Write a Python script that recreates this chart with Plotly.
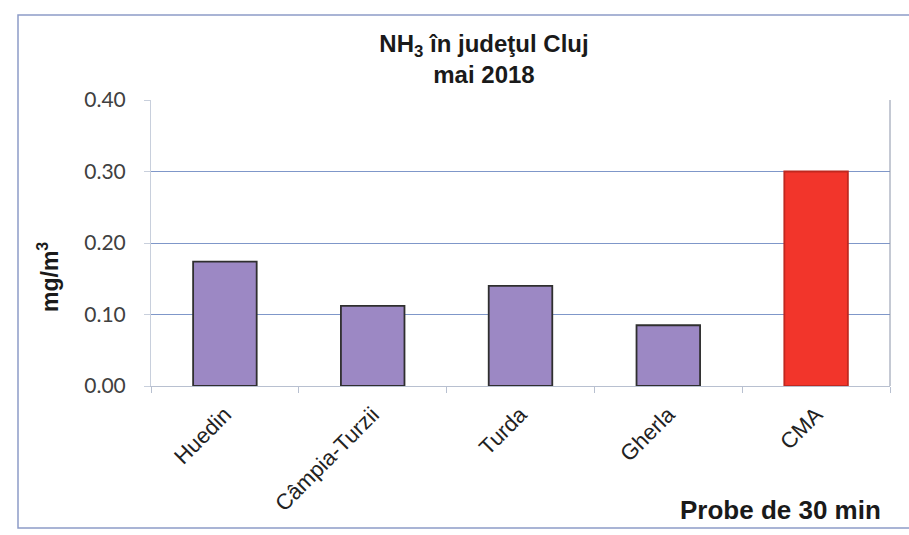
import plotly.graph_objects as go

categories = ["Huedin", "Câmpia-Turzii", "Turda", "Gherla", "CMA"]
values = [0.174, 0.112, 0.14, 0.085, 0.30]
bar_colors = ["#9c88c4", "#9c88c4", "#9c88c4", "#9c88c4", "#f2352b"]
line_colors = ["#2f2f2f", "#2f2f2f", "#2f2f2f", "#2f2f2f", "#c0281f"]
y_ticks = [0.0, 0.1, 0.2, 0.3, 0.4]
y_ticktext = ["0.00", "0.10", "0.20", "0.30", "0.40"]

fig = go.Figure()
fig.add_trace(go.Bar(
    x=categories, y=values, width=0.43,
    marker=dict(color=bar_colors, line=dict(color=line_colors, width=1.8)),
    hoverinfo="x+y",
))

fig.update_layout(
    width=909, height=535,
    margin=dict(l=151, r=19, t=100, b=149),
    paper_bgcolor="white", plot_bgcolor="white",
    showlegend=False,
    title=dict(
        text="<b>NH<sub>3</sub> în judeţul Cluj<br>mai 2018</b>",
        x=484 / 909, xanchor="center", y=1 - 52 / 535, yanchor="top",
        font=dict(family="Liberation Sans, Arial", size=24, color="#1a1a1a"),
    ),
    font=dict(family="Liberation Sans, Arial", color="#222"),
)

fig.update_yaxes(
    range=[0, 0.4], tickvals=y_ticks, ticktext=y_ticktext,
    showgrid=True, gridcolor="#7f97c9", gridwidth=1,
    showline=True, linecolor="#c8cfdc", linewidth=1, mirror=False,
    ticks="outside", ticklen=6, tickcolor="#c8cfdc",
    tickfont=dict(family="Lato, Open Sans", size=21, color="#404040"),
    ticklabelstandoff=14,
    zeroline=False,
)
fig.update_xaxes(
    showline=True, linecolor="#b8c0d0", linewidth=1,
    ticks="outside", ticklen=6, tickcolor="#b8c0d0", tickson="boundaries",
    tickangle=-45, ticklabelstandoff=6,
    tickfont=dict(family="Liberation Sans, Arial", size=22, color="#222"),
)

# y axis title
fig.add_annotation(
    text="<b>mg/m<sup>3</sup></b>", xref="paper", yref="paper",
    x=(48 - 151) / 739, y=(386 - 277) / 286, xanchor="center", yanchor="middle",
    textangle=-90, showarrow=False,
    font=dict(family="Liberation Sans, Arial", size=23, color="#1a1a1a"),
)

# right border of plot area
fig.add_shape(type="line", xref="paper", yref="paper", x0=1, x1=1, y0=0, y1=1,
              line=dict(color="#8a93a8", width=1))
# outer chart border
fig.add_shape(type="rect", xref="paper", yref="paper",
              x0=(18 - 151) / 739, x1=(930 - 151) / 739,
              y0=(386 - 528) / 286, y1=(386 - 15) / 286,
              line=dict(color="#8d9cc8", width=1.5), layer="below")

fig.add_annotation(
    text="<b>Probe de 30 min</b>", xref="paper", yref="paper",
    x=(883 - 151) / 739, y=(386 - 510) / 286, xanchor="right", yanchor="middle",
    showarrow=False, font=dict(family="Liberation Sans, Arial", size=26, color="#1a1a1a"),
)

fig.write_html("out.html", post_script="document.body.style.margin='0';",
               config={"displayModeBar": False})
